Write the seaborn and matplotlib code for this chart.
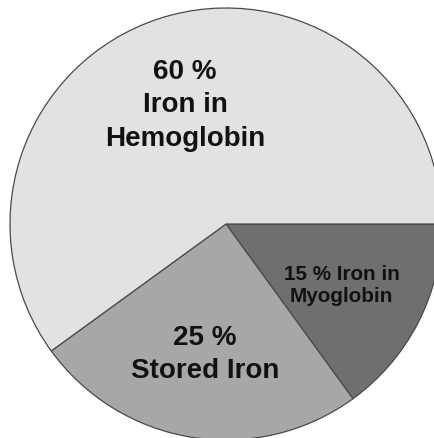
import matplotlib
matplotlib.use("Agg")
import matplotlib.pyplot as plt
import seaborn as sns

sns.set_theme(style="white")
plt.rcParams["font.family"] = ["Liberation Sans", "DejaVu Sans"]

# Distribution of body iron
categories = ["15 % Iron in\nMyoglobin", "25 %\nStored Iron", "60 %\nIron in\nHemoglobin"]
shares = [15, 25, 60]
colors = ["#6f6f6f", "#a7a7a7", "#e2e2e2"]

W, H = 435, 439
fig = plt.figure(figsize=(W / 100, H / 100), dpi=100)
ax = fig.add_axes([0, 0, 1, 1])

wedges, _ = ax.pie(
    shares,
    colors=colors,
    startangle=0,
    counterclock=False,
    radius=1.0,
    wedgeprops=dict(edgecolor="#4a4a4a", linewidth=0.9),
)

# Pie centre sits at (226, 225) px with a 216 px radius
cx, cy, r = 226, 225, 216
ax.set_xlim(-cx / r, (W - cx) / r)
ax.set_ylim(-(H - cy) / r, cy / r)
ax.set_aspect("auto")
ax.axis("off")

label_pos = [(0.535, -0.28), (-0.097, -0.6), (-0.19, 0.555)]
label_size = [14.9, 20, 20]
label_spacing = [1.25, 1.32, 1.38]
for text, (x, y), fs, ls in zip(categories, label_pos, label_size, label_spacing):
    ax.text(x, y, text, ha="center", va="center", fontsize=fs,
            fontweight="bold", color="#111111", linespacing=ls)

fig.savefig("out.png", dpi=100, facecolor="white")
